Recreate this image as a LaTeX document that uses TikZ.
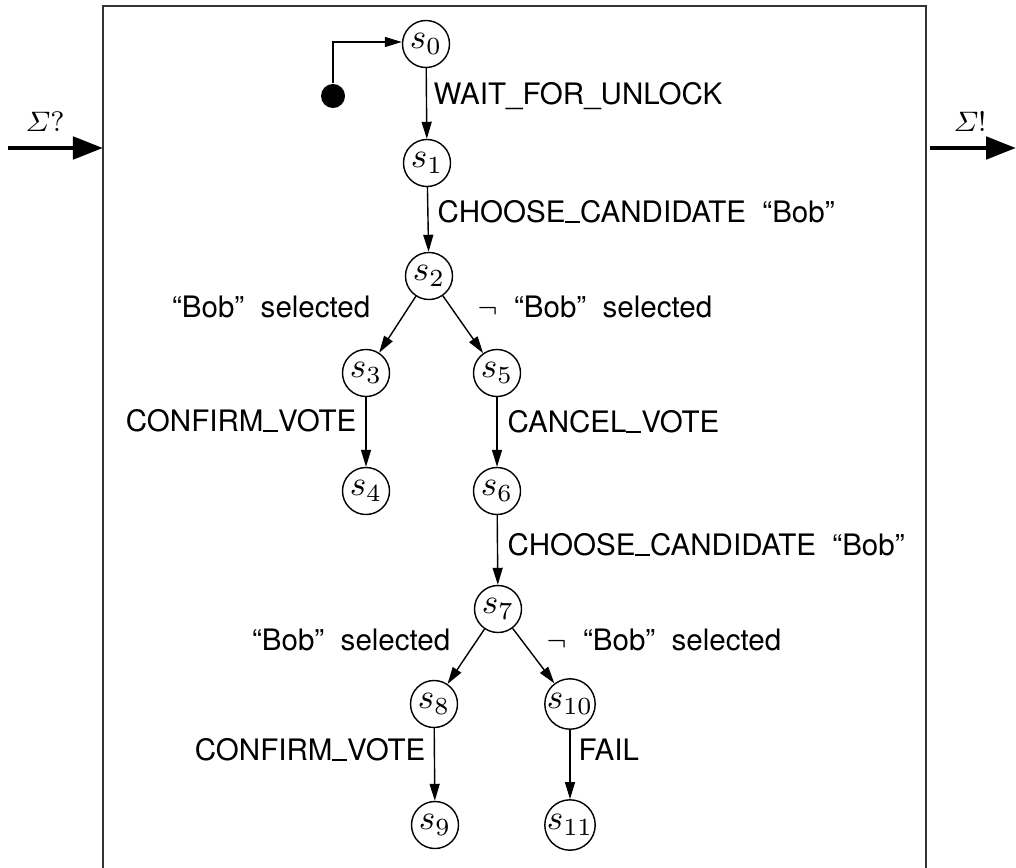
\documentclass[tikz,border=0pt]{standalone}
\usepackage{amsmath}
\usepackage{fontspec}
\newfontfamily\hv{TeX Gyre Heros}
\usetikzlibrary{arrows.meta}
% underscore drawn as a short rule on the baseline
\newcommand\lowbar{\rule{0.5em}{0.06em}}
\begin{document}
\begin{tikzpicture}[x=0.01cm,y=-0.01cm,
  state/.style={circle,draw,line width=0.4pt,minimum size=0.47cm,inner sep=0pt,font=\fontsize{9.6}{11}\selectfont},
  lbl/.style={font=\hv\fontsize{8.4}{10}\selectfont,inner sep=0pt},
  tr/.style={-{Triangle[length=0.17cm,width=0.1cm]},line width=0.4pt},
  chan/.style={-{Triangle[length=0.3cm,width=0.22cm]},line width=1.4pt},
  chanlbl/.style={inner sep=0pt,font=\fontsize{8.4}{10}\selectfont}]
\useasboundingbox (0,0) rectangle (1016,867);
% component frame (runs off the bottom of the page)
\draw[line width=0.6pt,black!80] (103,6) rectangle (926,900);

% states
\node[state] (s0) at (426,44) {$s_0$};
\node[state] (s1) at (427,163) {$s_1$};
\node[state] (s2) at (429,276) {$s_2$};
\node[state] (s3) at (366,373) {$s_3$};
\node[state] (s5) at (497,373) {$s_5$};
\node[state] (s4) at (366,491) {$s_4$};
\node[state] (s6) at (497,491) {$s_6$};
\node[state] (s7) at (498,609) {$s_7$};
\node[state] (s8) at (434,704) {$s_8$};
\node[state] (s10) at (570,704) {$s_{10}$};
\node[state] (s9) at (435,825) {$s_9$};
\node[state] (s11) at (570,825) {$s_{11}$};

% initial marker
\node[circle,fill=black,minimum size=0.24cm,inner sep=0pt] (init) at (333,96) {};
\coordinate (bend) at (333,42);
\draw[tr] (init) -- (bend) -- (s0.west |- bend);

% transitions
\draw[tr] (s0) -- (s1);
\draw[tr] (s1) -- (s2);
\draw[tr] (s2) -- (s3);
\draw[tr] (s2) -- (s5);
\draw[tr] (s3) -- (s4);
\draw[tr] (s5) -- (s6);
\draw[tr] (s6) -- (s7);
\draw[tr] (s7) -- (s8);
\draw[tr] (s7) -- (s10);
\draw[tr] (s8) -- (s9);
\draw[tr] (s10) -- (s11);

% transition labels
\node[lbl,anchor=west] (l01) at (433,96) {WAIT\_FOR\_UNLOCK};
\node[lbl,anchor=west] (l12) at (437,212) {CHOOSE\lowbar CANDIDATE\ \ “Bob”};
\node[lbl,anchor=east] (l23) at (371,307) {“Bob”\ \ selected};
\node[lbl,anchor=west] (l25) at (477,307) {$\neg$\ \ “Bob”\ \ selected};
\node[lbl,anchor=east] (l34) at (357,421) {CONFIRM\lowbar VOTE};
\node[lbl,anchor=west] (l56) at (507,422) {CANCEL\lowbar VOTE};
\node[lbl,anchor=west] (l67) at (507,545) {CHOOSE\lowbar CANDIDATE\ \ “Bob”};
\node[lbl,anchor=east] (l78) at (451,640) {“Bob”\ \ selected};
\node[lbl,anchor=west] (l710) at (546,640) {$\neg$\ \ “Bob”\ \ selected};
\node[lbl,anchor=east] (l89) at (426,750) {CONFIRM\lowbar VOTE};
\node[lbl,anchor=west] (l1011) at (578,750) {FAIL};

% input and output channels
\coordinate (inS) at (8,148);
\coordinate (inE) at (103,148);
\draw[chan] (inS) -- (inE);
\node[chanlbl] (inL) at (45,122) {$\varSigma?$};
\coordinate (outS) at (930,148);
\coordinate (outE) at (1016,148);
\draw[chan] (outS) -- (outE);
\node[chanlbl] (outL) at (970,122) {$\varSigma!$};
\end{tikzpicture}
\end{document}
